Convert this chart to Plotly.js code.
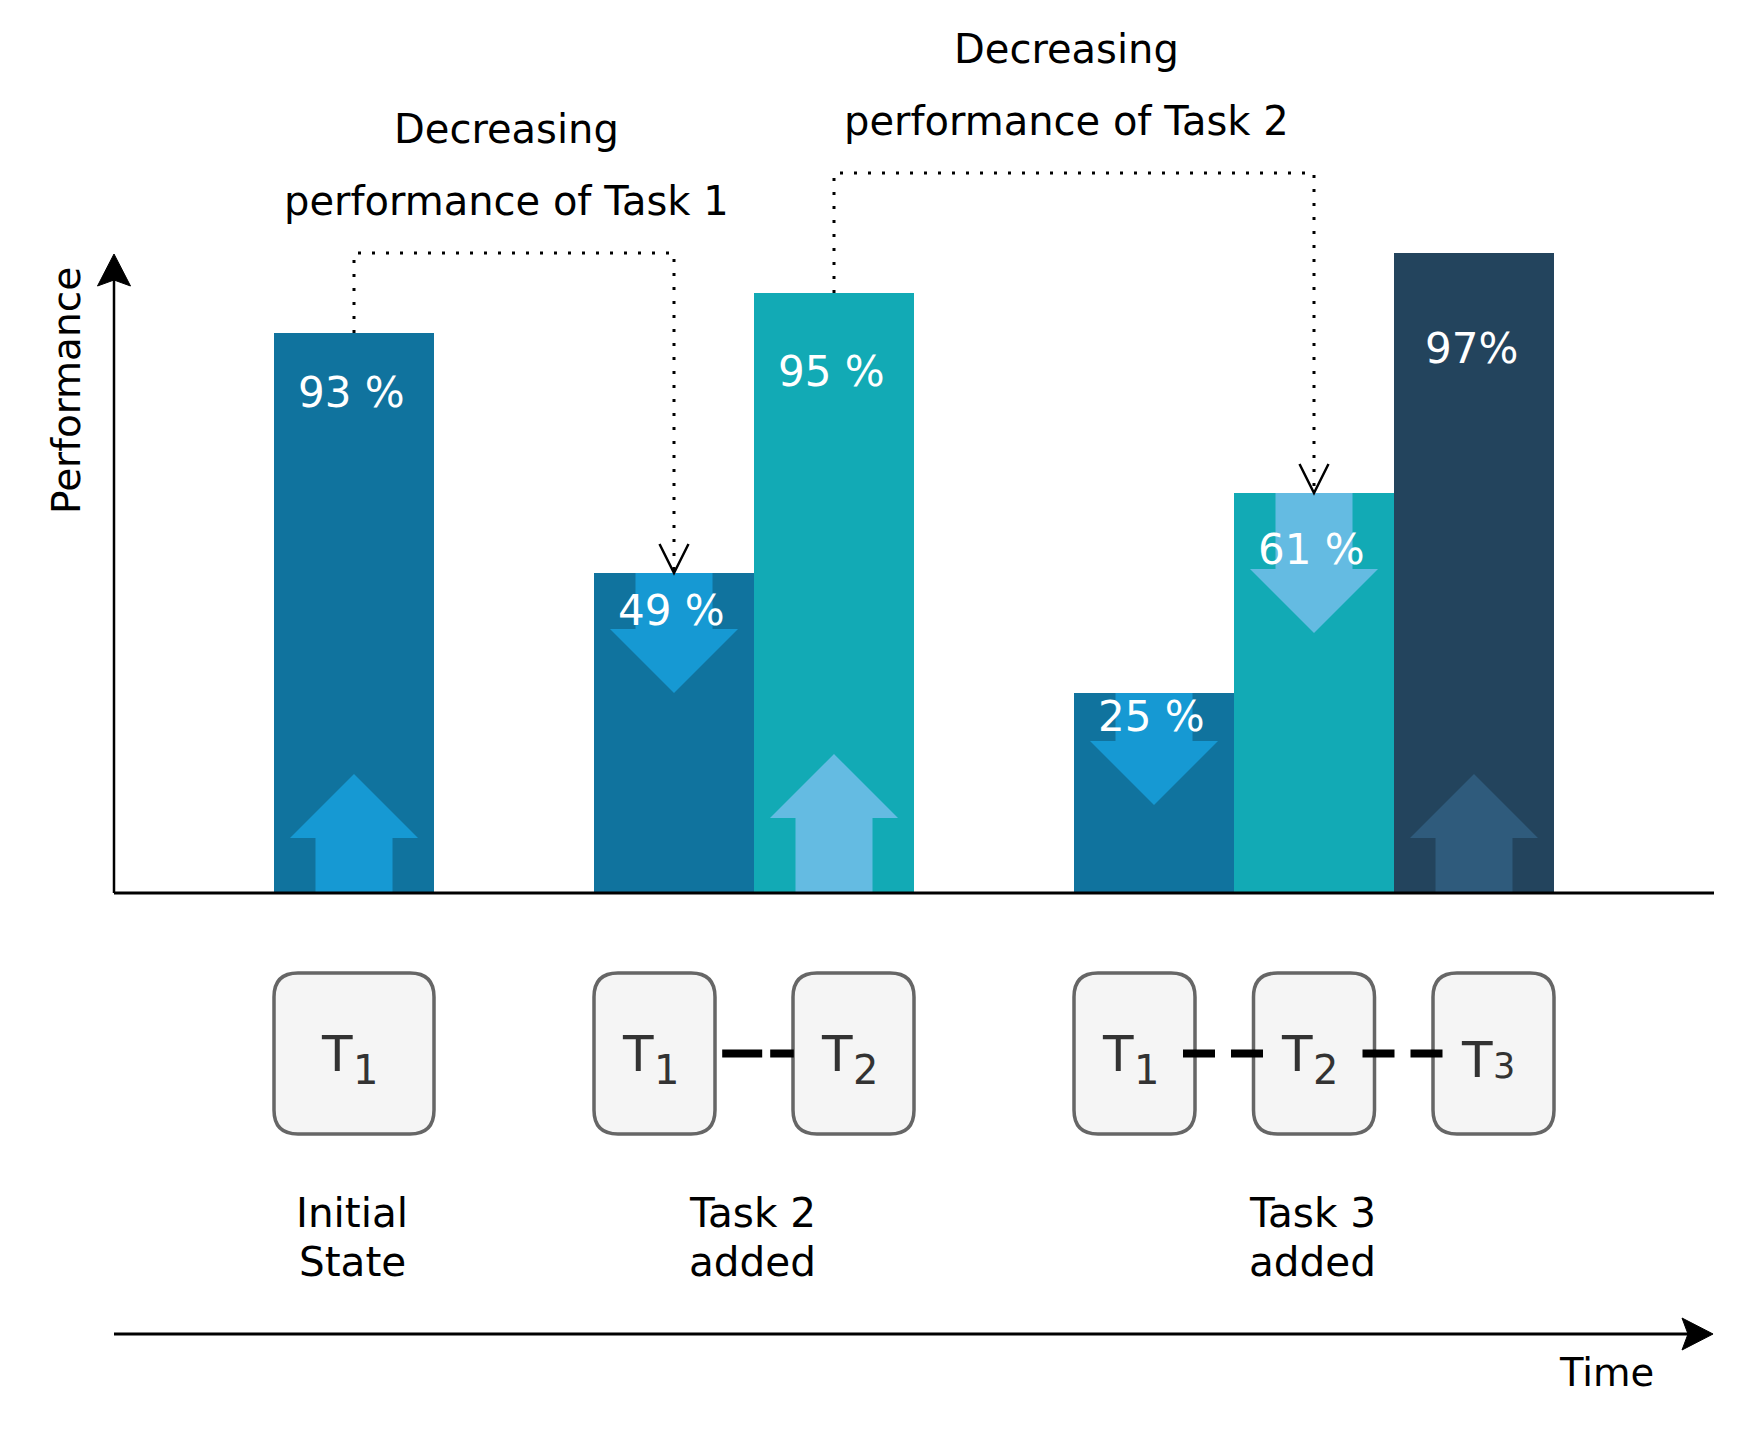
<!DOCTYPE html>
<html>
<head>
<meta charset="utf-8">
<script src="https://cdn.plot.ly/plotly-3.0.1.min.js"></script>
<style>
  html, body { margin: 0; padding: 0; background: #fff; }
  #chart { width: 1748px; height: 1432px; }
</style>
</head>
<body>
<div id="chart"></div>
<script>
// bars from left to right; slot = place on the time axis (1 unit = 1 bar width)
const barSlot = [2, 4, 5, 7, 8, 9];
const barTask = [1, 1, 2, 1, 2, 3];
// heights as drawn in the diagram (schematic, the labels carry the real numbers)
const barHeight = [14, 8, 15, 5, 10, 16];
const barLabel = ["93 %", "49 %", "95 %", "25 %", "61 %", "97%"];
const barTrend = ["up", "down", "up", "down", "down", "up"];

// stages along the time axis
const stageName = [["Initial", "State"], ["Task 2", "added"], ["Task 3", "added"]];
const stageBars = [[0], [1, 2], [3, 4, 5]];

// dotted links "Decreasing performance of Task n"
const dropFrom = [0, 2];
const dropTo = [1, 4];
const dropTask = [1, 2];

// ---- styling ----
const FONT = "DejaVu Sans, Verdana, sans-serif";
const taskColor = { 1: "#10739E", 2: "#12AAB5", 3: "#23445D" };
const arrowColor = { 1: "#1699D3", 2: "#64BBE2", 3: "#2F5B7C" };
const labelDrop = [1.475, 0.925, 1.95, 0.575, 1.4, 2.375];
const arrowShaft = [1.375, 1.4, 1.875, 1.2, 1.9, 1.375];
const dropLevel = [16, 18];
const linkStyle = [null, { dash: "40px,8px", a: 0.045, b: 0.005 }, { dash: "32px,16px", a: -0.075, b: 0.07 }];

// one x unit = 160px, one y unit = 40px
const UX = 160, UY = 40;
const boxTop = -2, boxBottom = -6.025, boxW = 121 / UX;
const axisX = 0.5, axisEnd = 10.5, timeY = -11.025;

const shapes = [];
const annotations = [];

function pathOf(pts, close) {
    return "M" + pts.map((p) => p[0] + "," + p[1]).join(" L") + (close ? " Z" : "");
}

function label(x, y, text, size, extra) {
    return Object.assign({
        x: x, y: y, xref: "x", yref: "y", text: text, showarrow: false,
        xanchor: "center", yanchor: "middle",
        font: { family: FONT, size: size, color: "#000000" }
    }, extra || {});
}

// arrows inside the bars
barSlot.forEach((cx, i) => {
    const sh = 38.5 / UX, hh = 64 / UX, headLen = 1.6;
    let pts;
    if (barTrend[i] === "up") {
        const b = arrowShaft[i];
        pts = [[cx - sh, 0], [cx - sh, b], [cx - hh, b], [cx, b + headLen], [cx + hh, b], [cx + sh, b], [cx + sh, 0]];
    } else {
        const top = barHeight[i];
        const b = top - arrowShaft[i];
        pts = [[cx - sh, top], [cx - sh, b], [cx - hh, b], [cx, b - headLen], [cx + hh, b], [cx + sh, b], [cx + sh, top]];
    }
    shapes.push({
        type: "path", xref: "x", yref: "y", layer: "above",
        path: pathOf(pts, true),
        fillcolor: arrowColor[barTask[i]], line: { width: 0 }
    });
    annotations.push(label(cx, barHeight[i] - labelDrop[i], barLabel[i], 42, {
        xshift: -3, font: { family: FONT, size: 42, color: "#ffffff" }
    }));
});

// dotted "decreasing" links with open arrow heads
dropFrom.forEach((from, k) => {
    const to = dropTo[k];
    const x0 = barSlot[from], x1 = barSlot[to];
    const lv = dropLevel[k];
    shapes.push({
        type: "path", xref: "x", yref: "y", layer: "above",
        path: pathOf([[x0, barHeight[from]], [x0, lv], [x1, lv], [x1, barHeight[to]]], false),
        line: { color: "#000000", width: 3, dash: "3px,11px" }
    });
    const hx = 14.5 / UX, hy = 29 / UY, tipY = barHeight[to];
    shapes.push({
        type: "path", xref: "x", yref: "y", layer: "above",
        path: pathOf([[x1 - hx, tipY + hy], [x1, tipY], [x1 + hx, tipY + hy]], false),
        line: { color: "#000000", width: 2.5 }
    });
    const mid = (x0 + x1) / 2 - 0.05;
    annotations.push(label(mid, lv + 3.1, "Decreasing", 40));
    annotations.push(label(mid, lv + 1.3, "performance of Task " + dropTask[k], 40));
});

// task boxes and stage names below the bars
stageBars.forEach((idx, s) => {
    const L = barSlot[idx[0]] - 0.5;
    const R = barSlot[idx[idx.length - 1]] + 0.5;
    const n = idx.length;
    const w = n === 1 ? R - L : boxW;
    const step = n === 1 ? 0 : (R - L - w) / (n - 1);
    const rx = 24 / UX, ry = 24 / UY;
    const lefts = [];
    idx.forEach((bi, j) => {
        const x0 = L + j * step, x1 = x0 + w;
        const y1 = boxTop, y0 = boxBottom;
        const cx = (x0 + x1) / 2, cy = (y0 + y1) / 2;
        lefts.push(x0);
        shapes.push({
            type: "path", xref: "x", yref: "y", layer: "above",
            path: `M${x0 + rx},${y1} L${x1 - rx},${y1} Q${x1},${y1} ${x1},${y1 - ry} L${x1},${y0 + ry} Q${x1},${y0} ${x1 - rx},${y0} L${x0 + rx},${y0} Q${x0},${y0} ${x0},${y0 + ry} L${x0},${y1 - ry} Q${x0},${y1} ${x0 + rx},${y1} Z`,
            fillcolor: "#F5F5F5", line: { color: "#666666", width: 3.5 }
        });
        const t = barTask[bi];
        // T3 is written with a small digit on the baseline, T1/T2 with a subscript
        const onBase = t === 3;
        annotations.push(label(cx, cy, "T", 50, {
            xanchor: "right", xshift: 1, yshift: onBase ? -6 : 0,
            font: { family: FONT, size: 50, color: "#333333" }
        }));
        annotations.push(label(cx, cy, String(t), onBase ? 35 : 40, {
            xanchor: "left", xshift: -3, yshift: onBase ? -12 : -16,
            font: { family: FONT, size: onBase ? 35 : 40, color: "#333333" }
        }));
    });
    const st = linkStyle[s];
    for (let j = 0; j + 1 < n; j += 1) {
        shapes.push({
            type: "line", xref: "x", yref: "y", layer: "above",
            x0: lefts[j] + w + st.a, x1: lefts[j + 1] + st.b,
            y0: (boxTop + boxBottom) / 2, y1: (boxTop + boxBottom) / 2,
            line: { color: "#000000", width: 8, dash: st.dash }
        });
    }
    annotations.push(label((L + R) / 2 - 0.01, -8, stageName[s][0], 40.5));
    annotations.push(label((L + R) / 2 - 0.01, -9.225, stageName[s][1], 40.5));
});

// axes drawn by hand (baseline, performance arrow, time arrow)
shapes.push({
    type: "line", xref: "x", yref: "y", layer: "above",
    x0: axisX, x1: axisEnd, y0: 0, y1: 0, line: { color: "#000", width: 3 }
});
shapes.push({
    type: "line", xref: "x", yref: "y", layer: "above",
    x0: axisX, x1: axisX, y0: 0, y1: 15.4, line: { color: "#000", width: 2.5 }
});
shapes.push({
    type: "path", xref: "x", yref: "y", layer: "above",
    path: pathOf([[axisX, 15.975], [axisX - 16.5 / UX, 15.175], [axisX, 15.325], [axisX + 16.5 / UX, 15.175]], true),
    fillcolor: "#000", line: { color: "#000", width: 1 }
});
shapes.push({
    type: "line", xref: "x", yref: "y", layer: "above",
    x0: axisX, x1: 10.35, y0: timeY, y1: timeY, line: { color: "#000", width: 3 }
});
shapes.push({
    type: "path", xref: "x", yref: "y", layer: "above",
    path: pathOf([[10.494, timeY], [10.3, timeY + 0.4], [10.3375, timeY], [10.3, timeY - 0.4]], true),
    fillcolor: "#000", line: { color: "#000", width: 1 }
});

annotations.push(label(0.2, 12.55, "Performance", 39, { textangle: -90 }));
annotations.push(label(9.83, -11.975, "Time", 38.5));

const traces = [{
    type: "bar",
    x: barSlot,
    y: barHeight,
    width: 1,
    marker: { color: barTask.map((t) => taskColor[t]), line: { width: 0 } },
    hoverinfo: "skip"
}];

const layout = {
    width: 1748,
    height: 1432,
    margin: { l: 0, r: 0, t: 0, b: 0 },
    paper_bgcolor: "#ffffff",
    plot_bgcolor: "#ffffff",
    showlegend: false,
    font: { family: FONT, color: "#000" },
    xaxis: { range: [-34 / UX, (1748 - 34) / UX], visible: false },
    yaxis: { range: [(893 - 1432) / UY, 893 / UY], visible: false },
    shapes: shapes,
    annotations: annotations
};

Plotly.newPlot("chart", traces, layout, { displayModeBar: false, staticPlot: true });
</script>
</body>
</html>
